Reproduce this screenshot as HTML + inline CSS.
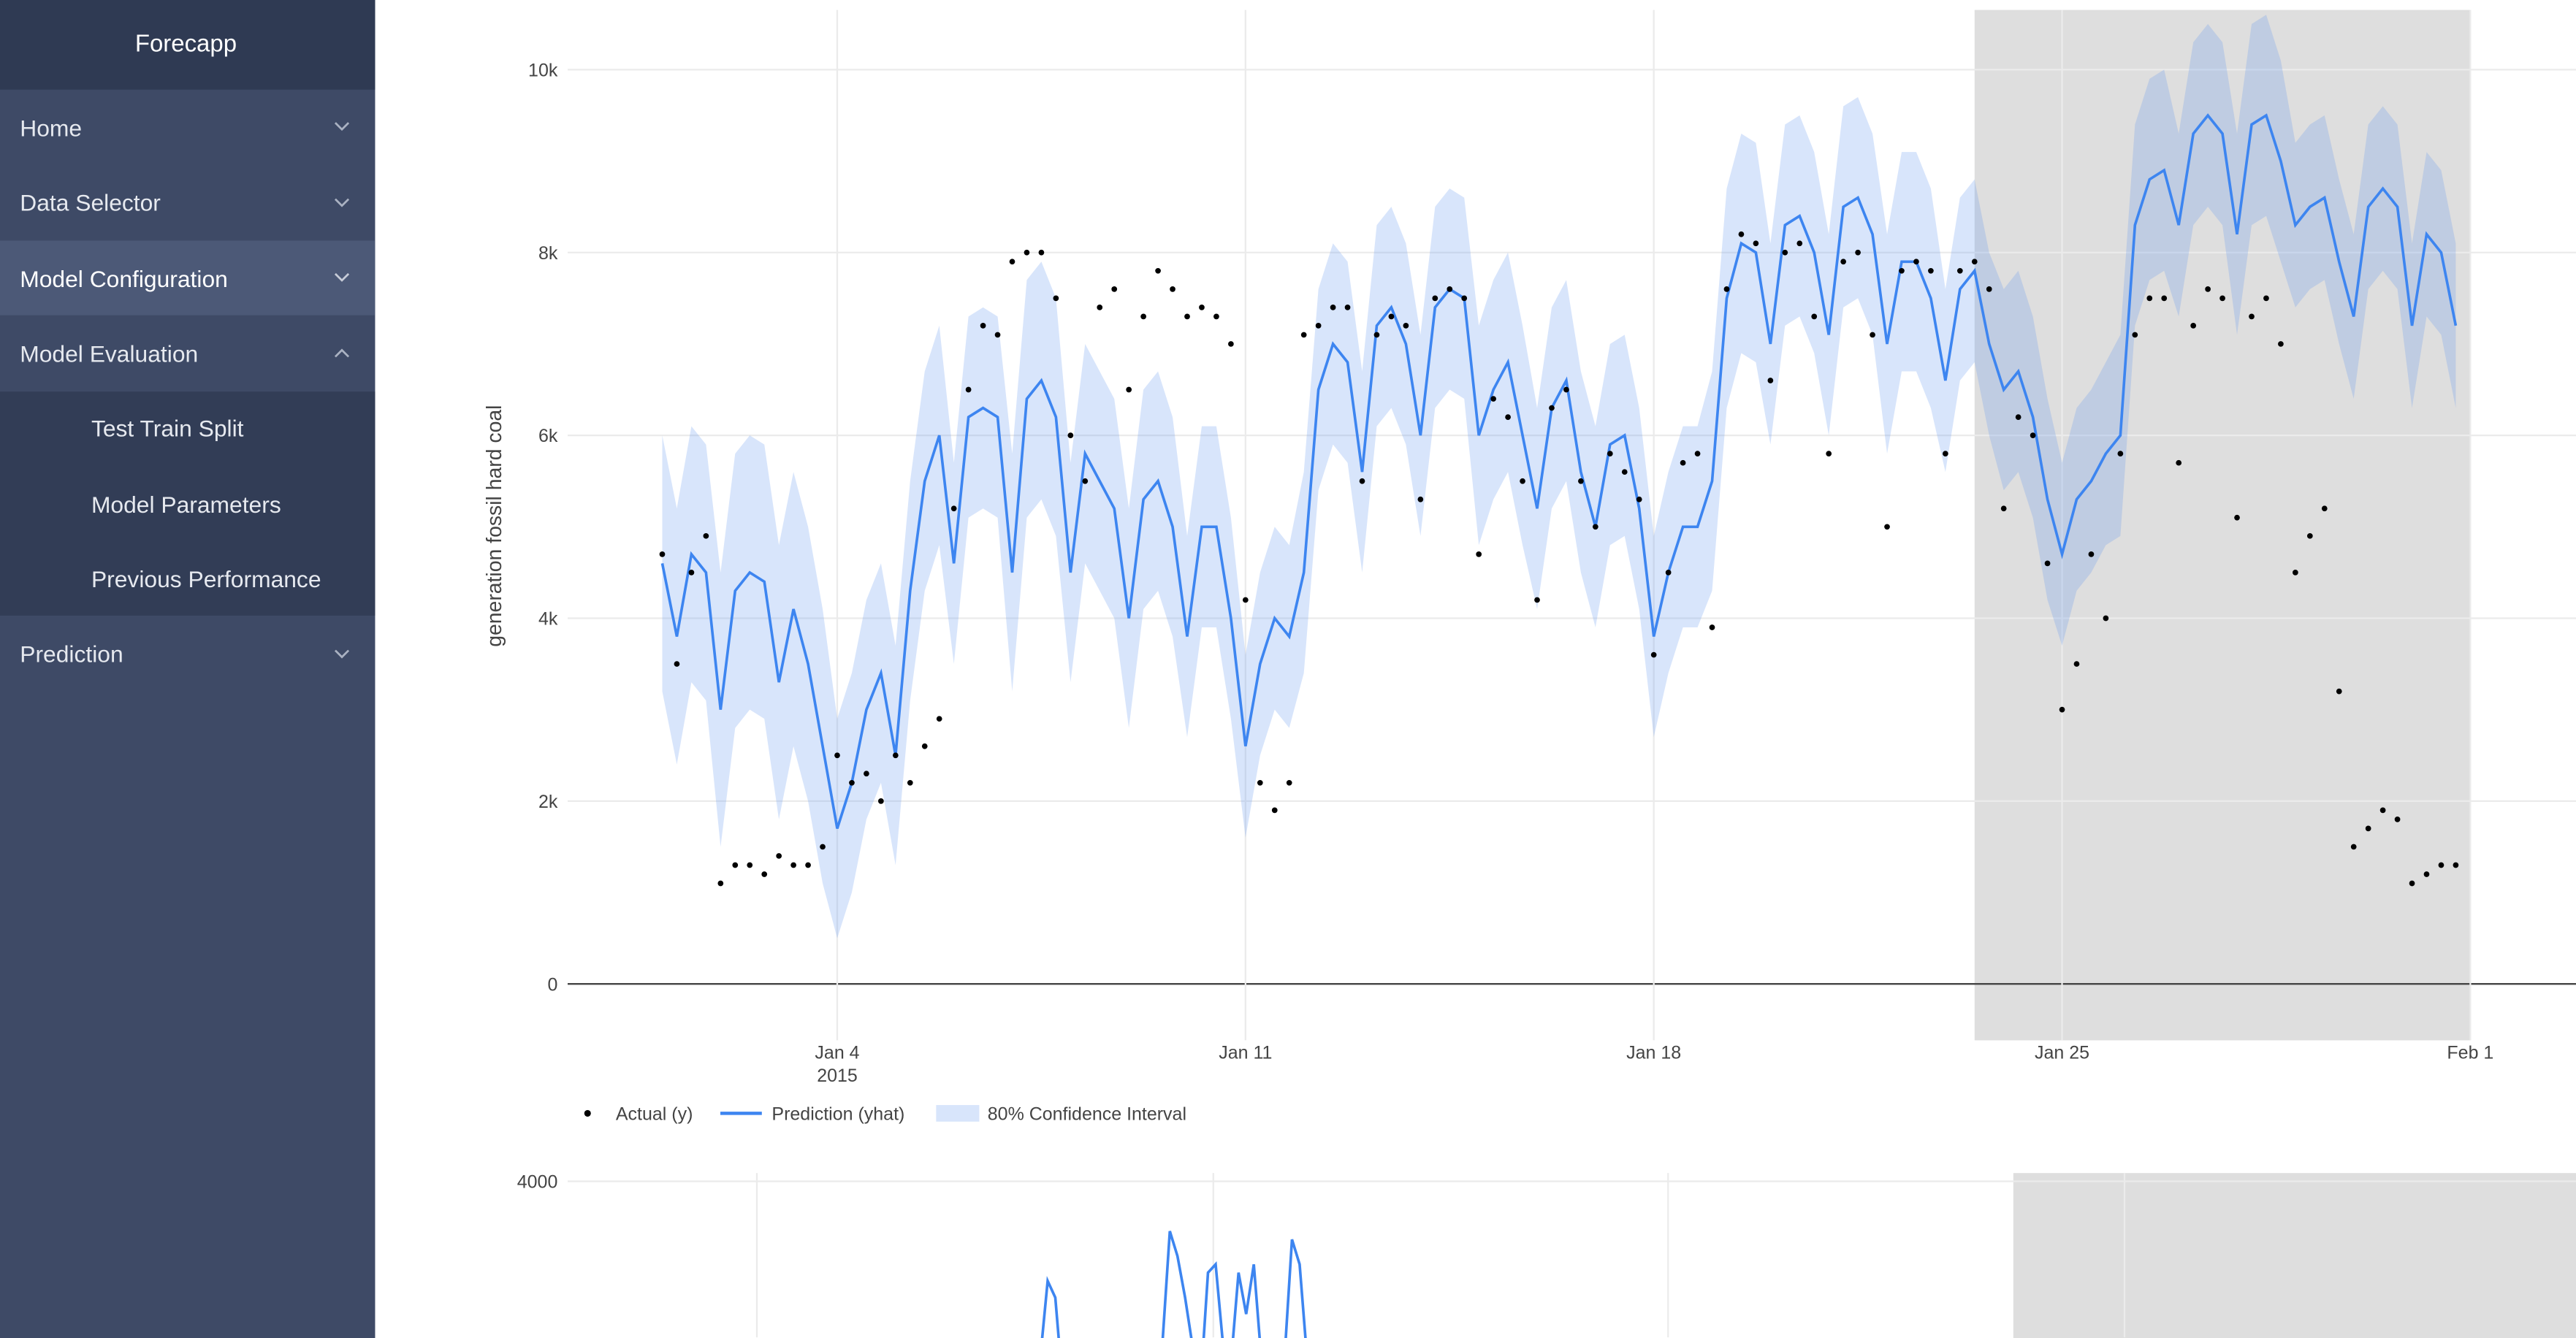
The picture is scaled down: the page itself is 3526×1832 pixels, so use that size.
<!DOCTYPE html>
<html><head><meta charset="utf-8">
<style>
html,body{margin:0;padding:0;background:#fff;}
svg{display:block;font-family:"Liberation Sans",Arial,sans-serif;}
</style></head>
<body>
<svg id="root" width="3526" height="1832" viewBox="0 0 1552 806.4" preserveAspectRatio="none">
  <!-- Sidebar -->
  <g>
    <rect x="0" y="0" width="226" height="806.4" fill="#3e4a66"/>
    <rect x="0" y="0" width="226" height="54" fill="#2f3a53"/>
    <text x="112" y="31" fill="#fff" font-size="14.5" text-anchor="middle">Forecapp</text>
    <g><text x="12" y="82" fill="#e6e9ef" font-size="14">Home</text><path d="M202 74l4 4 4-4" stroke="#aab2c2" fill="none" stroke-width="1.2"/></g>
    <g><text x="12" y="127" fill="#e6e9ef" font-size="14">Data Selector</text><path d="M202 120l4 4 4-4" stroke="#aab2c2" fill="none" stroke-width="1.2"/></g>
    <rect x="0" y="145" width="226" height="45" fill="#4c5977"/>
    <g><text x="12" y="173" fill="#fff" font-size="14">Model Configuration</text><path d="M202 165l4 4 4-4" stroke="#c7ccd8" fill="none" stroke-width="1.2"/></g>
    <g><text x="12" y="218" fill="#e6e9ef" font-size="14">Model Evaluation</text><path d="M202 215l4-4 4 4" stroke="#aab2c2" fill="none" stroke-width="1.2"/></g>
    <rect x="0" y="236" width="226" height="135" fill="#323d56"/>
    <text x="55" y="263" fill="#e6e9ef" font-size="14">Test Train Split</text>
    <text x="55" y="309" fill="#e6e9ef" font-size="14">Model Parameters</text>
    <text x="55" y="354" fill="#e6e9ef" font-size="14">Previous Performance</text>
    <g><text x="12" y="399" fill="#e6e9ef" font-size="14">Prediction</text><path d="M202 392l4 4 4-4" stroke="#aab2c2" fill="none" stroke-width="1.2"/></g>
  </g>
  <g id="main"></g>
  <g id="bottom"></g>
</svg>
<script>
const days = ["Jan 4","Jan 11","Jan 18","Jan 25","Feb 1"];
const yTicks = [0,2000,4000,6000,8000,10000];
const yTickLabels = ["0","2k","4k","6k","8k","10k"];
const yhat = [4.6,3.8,4.7,4.5, 3.0,4.3,4.5,4.4, 3.3,4.1,3.5,2.6, 1.7,2.2,3.0,3.4, 2.5,4.3,5.5,6.0, 4.6,6.2,6.3,6.2,
 4.5,6.4,6.6,6.2, 4.5,5.8,5.5,5.2, 4.0,5.3,5.5,5.0, 3.8,5.0,5.0,4.0, 2.6,3.5,4.0,3.8, 4.5,6.5,7.0,6.8,
 5.6,7.2,7.4,7.0, 6.0,7.4,7.6,7.5, 6.0,6.5,6.8,6.0, 5.2,6.3,6.6,5.6, 5.0,5.9,6.0,5.2, 3.8,4.5,5.0,5.0,
 5.5,7.5,8.1,8.0, 7.0,8.3,8.4,8.0, 7.1,8.5,8.6,8.2, 7.0,7.9,7.9,7.5, 6.6,7.6,7.8,7.0, 6.5,6.7,6.2,5.3,
 4.7,5.3,5.5,5.8, 6.0,8.3,8.8,8.9, 8.3,9.3,9.5,9.3, 8.2,9.4,9.5,9.0, 8.3,8.5,8.6,7.9, 7.3,8.5,8.7,8.5, 7.2,8.2,8.0,7.2];
const halfWidth = [1.4,1.5,1.5,1.2,1.2,1.1,1.3,1.2,1.2,1.1,1.0,1.1,1.1,1.1,1.2,1.1,1.1,1.1,1.2,1.1,1.1,1.2,1.0,1.1,1.0,1.1,1.0,1.1,0.9,0.9,0.9];
const actual = [4.7,3.5,4.5,4.9, 1.1,1.3,1.3,1.2, 1.4,1.3,1.3,1.5, 2.5,2.2,2.3,2.0, 2.5,2.2,2.6,2.9, 5.2,6.5,7.2,7.1,
 7.9,8.0,8.0,7.5, 6.0,5.5,7.4,7.6, 6.5,7.3,7.8,7.6, 7.3,7.4,7.3,7.0, 4.2,2.2,1.9,2.2, 7.1,7.2,7.4,7.4,
 5.5,7.1,7.3,7.2, 5.3,7.5,7.6,7.5, 4.7,6.4,6.2,5.5, 4.2,6.3,6.5,5.5, 5.0,5.8,5.6,5.3, 3.6,4.5,5.7,5.8,
 3.9,7.6,8.2,8.1, 6.6,8.0,8.1,7.3, 5.8,7.9,8.0,7.1, 5.0,7.8,7.9,7.8, 5.8,7.8,7.9,7.6, 5.2,6.2,6.0,4.6,
 3.0,3.5,4.7,4.0, 5.8,7.1,7.5,7.5, 5.7,7.2,7.6,7.5, 5.1,7.3,7.5,7.0, 4.5,4.9,5.2,3.2, 1.5,1.7,1.9,1.8, 1.1,1.2,1.3,1.3];
const forecastStartDay = 22.5;
const bottomTicks = [2000,4000];
const bottomSeries = [0,0,0,0,0,0,0,0,0,0,0,0,0,0,0,0,0,0,0,0,0,0,2800,2600,1500,0,0,0,0,0,0,0,0,0,0,0,0,2000,3400,3100,2600,2000,1500,2900,3000,2000,1800,2900,2400,3000,0,0,0,0,3300,3000,0];

const NS="http://www.w3.org/2000/svg";
function mk(parent,tag,attrs){const e=document.createElementNS(NS,tag);for(const k in attrs)e.setAttribute(k,attrs[k]);parent.appendChild(e);return e;}
const X0=399, PXD=35.14, Y0=593, PYK=55.1;
const xs = d => X0 + d*PXD;
const ys = v => Y0 - v*PYK/1000*1000/1; // v in k
const yk = v => Y0 - v*PYK;
const g=document.getElementById('main');

// gray test region
const gr=mk(g,'rect',{x:xs(forecastStartDay),y:6,width:1488-xs(forecastStartDay),height:621,fill:'#dedede'});


// grid
yTicks.forEach((t,i)=>{
  const y=yk(t/1000);
  const l=mk(g,'line',{x1:342,x2:1552,y1:y,y2:y,stroke:t===0?'#444':'#ebebeb','stroke-width':1});
  
  
  const tx=mk(g,'text',{x:336,y:y+4,'font-size':11,'text-anchor':'end',fill:'#444'});
  tx.textContent=yTickLabels[i];
  
  
});
days.forEach((d,i)=>{
  const x=xs(3+7*i);
  const l=mk(g,'line',{x1:x,x2:x,y1:6,y2:627,stroke:'#ebebeb'});
  
  
  const tx=mk(g,'text',{x:x,y:638,'font-size':11,'text-anchor':'middle',fill:'#444'});
  tx.textContent=d;
  
  
});
const yr=mk(g,'text',{x:xs(3),y:652,'font-size':11,'text-anchor':'middle',fill:'#444'});yr.textContent='2015';


const yt=mk(g,'text',{x:302,y:317,'font-size':12.5,'text-anchor':'middle',fill:'#444',transform:'rotate(-90 302 317)'});
yt.textContent='generation fossil hard coal';



// confidence band
let up='',lo='';
yhat.forEach((v,i)=>{const d=i/4;const w=halfWidth[Math.min(Math.floor(d),halfWidth.length-1)];up+=(i?'L':'M')+xs(d)+' '+yk(v+w);});
for(let i=yhat.length-1;i>=0;i--){const d=i/4;const w=halfWidth[Math.min(Math.floor(d),halfWidth.length-1)];lo+='L'+xs(d)+' '+yk(Math.max(v0(i)-w,0));}
function v0(i){return yhat[i];}
const band=mk(g,'path',{d:up+lo+'Z',fill:'rgba(99,150,240,0.25)'});


// yhat line
let lp='';yhat.forEach((v,i)=>{lp+=(i?'L':'M')+xs(i/4)+' '+yk(v);});
const line=mk(g,'path',{d:lp,fill:'none',stroke:'#3d85f0','stroke-width':1.6});


// actual points
actual.forEach((v,i)=>{
  const c=mk(g,'circle',{cx:xs(i/4),cy:yk(v),r:1.7,fill:'#000'});
  
  
});
// legend
const lg=mk(g,'g',{});


mk(lg,'circle',{cx:354,cy:671,r:2,fill:'#000'});
let t1=mk(lg,'text',{x:371,y:675,'font-size':11,fill:'#444'});t1.textContent='Actual (y)';
mk(lg,'line',{x1:434,x2:459,y1:671,y2:671,stroke:'#3d85f0','stroke-width':2});
let t2=mk(lg,'text',{x:465,y:675,'font-size':11,fill:'#444'});t2.textContent='Prediction (yhat)';
mk(lg,'rect',{x:564,y:666,width:26,height:10,fill:'rgba(99,150,240,0.25)'});
let t3=mk(lg,'text',{x:595,y:675,'font-size':11,fill:'#444'});t3.textContent='80% Confidence Interval';

// bottom chart
const b=document.getElementById('bottom');
const BX0=342, BPX=39.2*7/7, BY=(v)=>812-(v-2000)*0.05;
const br=mk(b,'rect',{x:1213,y:707,width:339,height:100,fill:'#dedede'});


bottomTicks.forEach(t=>{
  const y=BY(t);
  const l=mk(b,'line',{x1:342,x2:1552,y1:y,y2:y,stroke:'#ebebeb'});
  
  
  const tx=mk(b,'text',{x:336,y:y+4,'font-size':11,'text-anchor':'end',fill:'#444'});tx.textContent=String(t);
  
  
});
[456,731,1005,1280].forEach(x=>{
  const l=mk(b,'line',{x1:x,x2:x,y1:707,y2:806,stroke:'#ebebeb'});
  
  
});
let bp='';bottomSeries.forEach((v,i)=>{bp+=(i?'L':'M')+(530+i*4.6)+' '+(v?BY(v):820);});
const bl=mk(b,'path',{d:bp,fill:'none',stroke:'#3d85f0','stroke-width':1.6});


</script>
</body></html>
